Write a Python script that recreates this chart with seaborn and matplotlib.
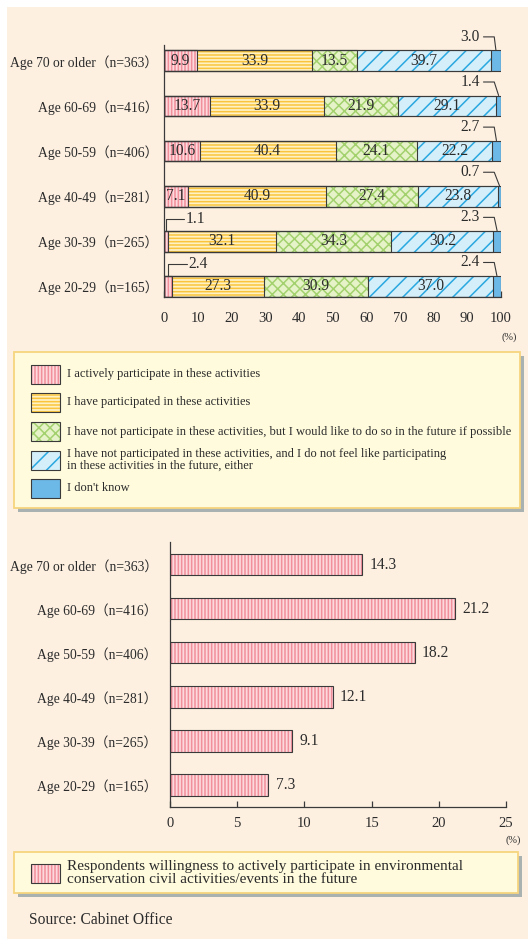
import numpy as np
import matplotlib
matplotlib.use("Agg")
import matplotlib.pyplot as plt
from matplotlib.patches import Rectangle
import seaborn as sns

sns.set_theme(style="white")
plt.rcParams['font.family'] = ['Liberation Serif', 'Noto Sans CJK JP']
plt.rcParams['hatch.linewidth'] = 1.1

# data
groups = ["Age 70 or older（n=363）", "Age 60-69（n=416）", "Age 50-59（n=406）",
          "Age 40-49（n=281）", "Age 30-39（n=265）", "Age 20-29（n=165）"]
active = [9.9, 13.7, 10.6, 7.1, 1.1, 2.4]
participated = [33.9, 33.9, 40.4, 40.9, 32.1, 27.3]
would_like = [13.5, 21.9, 24.1, 27.4, 34.3, 30.9]
not_interested = [39.7, 29.1, 22.2, 23.8, 30.2, 37.0]
dont_know = [3.0, 1.4, 2.7, 0.7, 2.3, 2.4]
future_willing = [14.3, 21.2, 18.2, 12.1, 9.1, 7.3]

legend_labels = [
    "I actively participate in these activities",
    "I have participated in these activities",
    "I have not participate in these activities, but I would like to do so in the future if possible",
    "I have not participated in these activities, and I do not feel like participating\nin these activities in the future, either",
    "I don't know",
]
legend2_label = ("Respondents willingness to actively participate in environmental\n"
                 "conservation civil activities/events in the future")
top_ticks = [0, 10, 20, 30, 40, 50, 60, 70, 80, 90, 100]
bottom_ticks = [0, 5, 10, 15, 20, 25]

# styles
fills = ['#fdd8dc', '#fff1c4', '#e6f2c8', '#d4effa', '#6cb8e6']
stripes = ['#f1909b', '#fac53c', '#a3d16e', '#2aa8e0', '#6cb8e6']
hatches = ['|||||', '-----', 'xxx', '//', None]
edge = '#3a3a3a'
txt = '#2b2b2b'
cream = '#fdf0e1'

W, H = 528, 939
fig = plt.figure(figsize=(W / 100, H / 100), dpi=100, facecolor='white')

# background / legend layer in pixel coords
bg = fig.add_axes([0, 0, 1, 1], zorder=0)
bg.set_xlim(0, W)
bg.set_ylim(H, 0)
bg.axis('off')
bg.add_patch(Rectangle((7, 7), W - 7, H - 7, color=cream, lw=0))


def px_axes(x0, x1, y0, y1):
    a = fig.add_axes([x0 / W, 1 - y1 / H, (x1 - x0) / W, (y1 - y0) / H], zorder=2)
    a.set_facecolor('none')
    return a


def swatch(x, y, w, h, i):
    bg.add_patch(Rectangle((x, y), w, h, facecolor=fills[i], edgecolor=stripes[i],
                           hatch=hatches[i], lw=0))
    bg.add_patch(Rectangle((x, y), w, h, fill=False, edgecolor=edge, lw=0.8))


def legend_box(x, y, w, h):
    bg.add_patch(Rectangle((x + 4, y + 4), w, h, color='#aab1b1', lw=0))
    bg.add_patch(Rectangle((x, y), w, h, facecolor='#fffbdc', edgecolor='#f6d57e', lw=1.3))


def style_axis(ax, ylim, pad_x, pad_y):
    ax.set_ylim(*ylim)
    ax.set_xlabel('')
    ax.set_ylabel('')
    for s in ['top', 'right']:
        ax.spines[s].set_visible(False)
    for s in ['left', 'bottom']:
        ax.spines[s].set_color(edge)
        ax.spines[s].set_linewidth(0.9)
    ax.tick_params(axis='x', direction='in', length=4, width=0.9, color=edge,
                   labelsize=10.5, labelcolor=txt, pad=pad_x, bottom=True)
    ax.tick_params(axis='y', length=0, labelsize=9.8, labelcolor=txt, pad=pad_y, left=False)


# ---------------- top stacked chart ----------------
ax = px_axes(164, 501, 45, 297)
series = np.array([active, participated, would_like, not_interested, dont_know])
cum = np.cumsum(series, axis=0)
bw = 0.46
for i in reversed(range(5)):
    sns.barplot(x=cum[i], y=groups, orient='h', color=fills[i], saturation=1,
                width=bw, errorbar=None, ax=ax)
    for p in ax.containers[-1]:
        p.set_hatch(hatches[i])
        p.set_edgecolor(stripes[i])
        p.set_linewidth(0)
for i in reversed(range(5)):
    sns.barplot(x=cum[i], y=groups, orient='h', color=edge, fill=False,
                width=bw, errorbar=None, linewidth=0.8, ax=ax)
ax.set_xlim(0, 100)
ax.set_xticks(top_ticks)
style_axis(ax, (5 + bw / 2 + 0.005, -0.35), 10.5, 4)

fs_val = 11.2
for j in range(len(groups)):
    for i in range(4):
        v = series[i][j]
        c = cum[i][j] - v / 2
        if i == 0 and v < 3:
            ax.plot([c, c, c + 5.5], [j - bw / 2, j - 0.5, j - 0.5], color=edge, lw=0.8,
                    clip_on=False)
            ax.text(c + 6, j - 0.5, f"{v:.1f}", ha='left', va='center', fontsize=fs_val,
                    color=txt)
        else:
            ax.text(c, j, f"{v:.1f}", ha='center', va='center', fontsize=fs_val, color=txt)
    v = series[4][j]
    c = cum[4][j] - v / 2
    ax.plot([94.8, 98.0, c], [j - 0.53, j - 0.53, j - bw / 2], color=edge, lw=0.8,
            clip_on=False)
    ax.text(93.8, j - 0.53, f"{v:.1f}", ha='right', va='center', fontsize=fs_val, color=txt)

ax.text(1.0, -0.16, "(%)", transform=ax.transAxes, ha='left', va='center',
        fontsize=7.5, color=txt)

# legend 1
legend_box(14, 352, 506, 156)
leg_rows = [374.5, 402.5, 431.5, 460, 488]
for i, (yc, lab) in enumerate(zip(leg_rows, legend_labels)):
    swatch(31, yc - 9.5, 29, 19, i)
    bg.text(67, yc, lab, ha='left', va='center', fontsize=9.0, color=txt,
            linespacing=0.95)

# ---------------- bottom chart ----------------
ax2 = px_axes(170, 506, 542, 807)
bw2 = 0.48
sns.barplot(x=future_willing, y=groups, orient='h', color=fills[0], saturation=1,
            width=bw2, errorbar=None, ax=ax2)
for p in ax2.containers[-1]:
    p.set_hatch(hatches[0])
    p.set_edgecolor(stripes[0])
    p.set_linewidth(0)
sns.barplot(x=future_willing, y=groups, orient='h', color=edge, fill=False,
            width=bw2, errorbar=None, linewidth=0.8, ax=ax2)
ax2.set_xlim(0, 25)
ax2.set_xticks(bottom_ticks)
style_axis(ax2, (5.5, -0.52), 7, 9)
for j, v in enumerate(future_willing):
    ax2.text(v + 0.55, j, f"{v:.1f}", ha='left', va='center', fontsize=fs_val, color=txt)
ax2.text(1.0, -0.125, "(%)", transform=ax2.transAxes, ha='left', va='center',
         fontsize=7.5, color=txt)

# legend 2
legend_box(14, 852, 504, 41)
swatch(31, 864, 29, 19, 0)
bg.text(67, 873, legend2_label, ha='left', va='center', fontsize=11, color=txt,
        linespacing=0.92)

bg.text(29, 920, "Source: Cabinet Office", ha='left', va='center', fontsize=11.2, color=txt)

fig.savefig("out.png", dpi=100, facecolor='white')
